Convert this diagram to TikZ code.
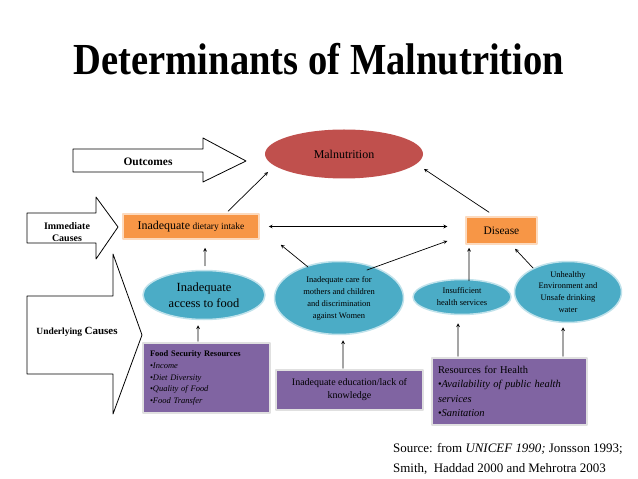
\documentclass[tikz,border=0pt]{standalone}
\usepackage{fontspec}
\setmainfont{Liberation Serif}
\usetikzlibrary{shapes.geometric}
\definecolor{malred}{HTML}{C0504D}
\definecolor{causeblue}{HTML}{4BACC6}
\definecolor{intakeorange}{HTML}{F79646}
\definecolor{resviolet}{HTML}{8064A2}
\newcommand{\fsz}[2]{\fontsize{#1}{#2}\selectfont}
\begin{document}
\begin{tikzpicture}[x=1bp, y=-1bp, >=stealth, line cap=round, line join=round,
	oval/.style={ellipse, fill=causeblue, draw=white!65!causeblue, line width=1.5bp, inner sep=0pt, align=center},
	orangebox/.style={rectangle, fill=intakeorange, draw=intakeorange!35, line width=1.5bp, inner sep=0pt},
	violetbox/.style={rectangle, fill=resviolet, draw=black!12, line width=1.5bp},
	link/.style={->, line width=0.7bp},
	bigarrow/.style={draw, line width=0.8bp}]
\useasboundingbox (0,0) rectangle (638,479);
% title
\node[font=\fsz{38.7}{46}\bfseries, anchor=base, inner sep=0pt] (title) at (319,75) {\scalebox{1}[1.15]{Determinants of Malnutrition}};
% level arrows
\draw[bigarrow] (73,149)--(203,149)--(203,138)--(246,161)--(203,182)--(203,172)--(73,172)--cycle;
\draw[bigarrow] (27,213)--(96,213)--(96,197)--(118,227)--(96,259)--(96,243)--(27,243)--cycle;
\draw[bigarrow] (27,296)--(113,296)--(113,254)--(142,335)--(113,414)--(113,374)--(27,374)--cycle;
\node[font=\fsz{11.5}{14}\bfseries] (outtxt) at (148,162) {Outcomes};
\node[font=\fsz{10}{12}\bfseries, align=center] (immtxt) at (67,232) {Immediate\\Causes};
\node (undtxt) at (77,332) {{\fsz{9.5}{12}\bfseries Underlying} {\fsz{11}{13}\bfseries Causes}};
% outcome and immediate causes
\node[ellipse, fill=malred, minimum width=158bp, minimum height=49bp, inner sep=0pt, font=\fsz{12}{14}] (mal) at (344,154) {Malnutrition};
\node[orangebox, minimum width=136bp, minimum height=25bp] (diet) at (191,226.5) {{\fsz{12}{14}Inadequate} {\fsz{9.5}{12}dietary intake}};
\node[orangebox, minimum width=71bp, minimum height=27bp, font=\fsz{11.5}{14}] (disease) at (501.5,230.5) {Disease};
% underlying causes
\node[oval, minimum width=122bp, minimum height=49bp, font=\fsz{12.5}{16.5}] (access) at (204,295) {Inadequate\\access to food};
\node[oval, minimum width=129bp, minimum height=73bp, font=\fsz{8.5}{12}] (care) at (339,298) {Inadequate care for\\mothers and children\\and discrimination\\against Women};
\node[oval, minimum width=98bp, minimum height=35bp, font=\fsz{8.5}{12}] (insuff) at (462,297) {Insufficient\\health services};
\node[oval, minimum width=107bp, minimum height=61bp, font=\fsz{8.5}{11.9}] (unhealthy) at (568,292) {Unhealthy\\Environment and\\Unsafe drinking\\water};
% resources
\node[violetbox, minimum height=70bp, text width=113bp, inner xsep=7bp, inner ysep=0pt, align=left, font=\fsz{8.5}{11.9}] (foodsec) at (206.5,378) {\textbf{Food Security Resources}\\\textbullet\textit{Income}\\\textbullet\textit{Diet Diversity}\\\textbullet\textit{Quality of Food}\\\textbullet\textit{Food Transfer}};
\node[violetbox, minimum width=147bp, minimum height=40bp, inner sep=0pt, align=center, font=\fsz{10}{13}] (edu) at (349.5,390) {Inadequate education/lack of\\knowledge};
\node[violetbox, minimum height=67bp, text width=143bp, inner xsep=6bp, inner ysep=0pt, align=left, font=\fsz{10.5}{14.5}] (healthres) at (509.5,391.5) {Resources for Health\\\textbullet\textit{Availability of public health}\\\textit{services}\\\textbullet\textit{Sanitation}};
% connectors
\draw[link] ([xshift=37bp,yshift=2bp]diet.north) -- ([xshift=-76bp,yshift=-18bp]mal.center);
\draw[link] ([xshift=-12.5bp,yshift=4bp]disease.north) -- ([xshift=80bp,yshift=-15bp]mal.center);
\draw[link, <->, shorten <=9bp, shorten >=18bp] (diet.east) -- (diet.east -| disease.west);
\draw[link] ([xshift=-31bp,yshift=31bp]care.center) -- ([xshift=21bp,yshift=-5bp]diet.south east);
\draw[link] ([xshift=28bp,yshift=28bp]care.center) -- ([xshift=-18bp,yshift=-10.5bp]disease.west);
\draw[link] ([xshift=7bp,yshift=-2bp]insuff.north) -- ([xshift=-32.5bp,yshift=-3bp]disease.south);
\draw[link] ([xshift=-35bp,yshift=24bp]unhealthy.center) -- ([xshift=13.5bp,yshift=-4bp]disease.south);
\draw[link] ([xshift=1bp,yshift=4bp]access.north) -- ([xshift=14bp,yshift=-8bp]diet.south);
\draw[link] ([xshift=-8.5bp,yshift=1bp]foodsec.north) -- ([xshift=-6bp,yshift=-5bp]access.south);
\draw[link] ([xshift=-6.5bp,yshift=1bp]edu.north) -- ([xshift=4bp,yshift=-5bp]care.south);
\draw[link] ([xshift=-51.5bp,yshift=1bp]healthres.north) -- ([xshift=-4bp,yshift=-8bp]insuff.south);
\draw[link] ([xshift=53.5bp,yshift=1bp]healthres.north) -- ([xshift=-5bp,yshift=-4bp]unhealthy.south);
% source
\node[anchor=north west, inner sep=0pt, align=left, font=\fsz{13}{20}] (source) at (393,443) {Source: from \textit{UNICEF 1990;} Jonsson 1993;\\Smith,\ \ Haddad 2000 and Mehrotra 2003};
\end{tikzpicture}
\end{document}
